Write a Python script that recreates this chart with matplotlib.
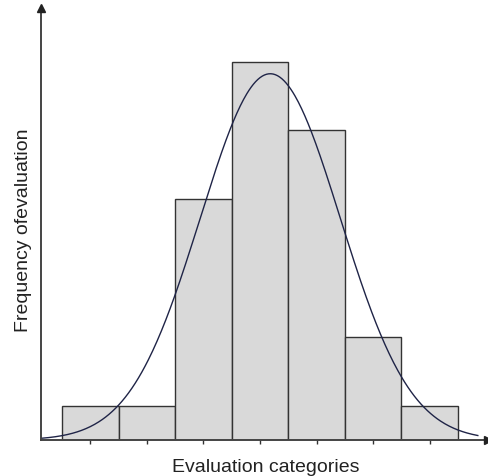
import numpy as np
import matplotlib.pyplot as plt

# frequency of each evaluation category
categories = [1, 2, 3, 4, 5, 6, 7]
frequencies = [1, 1, 7, 11, 9, 3, 1]

plt.rcParams['font.family'] = ['Liberation Sans', 'DejaVu Sans']

fig = plt.figure(figsize=(4.88, 4.77), dpi=100)
ax = fig.add_axes([41 / 488, 36 / 477, 447 / 488, 432 / 477])

ax.bar(categories, frequencies, width=1.0, color='#d9d9d9',
       edgecolor='#333333', linewidth=1.0, zorder=2)

# normal curve fitted to the histogram (sample std)
cats = np.array(categories, dtype=float)
freq = np.array(frequencies, dtype=float)
n = freq.sum()
mu = (cats * freq).sum() / n
sigma = np.sqrt(((cats - mu) ** 2 * freq).sum() / (n - 1))
xs = np.linspace(0.13, 7.85, 400)
ys = n / (sigma * np.sqrt(2 * np.pi)) * np.exp(-0.5 * ((xs - mu) / sigma) ** 2)
ax.plot(xs, ys, color='#1f2447', linewidth=1.0, zorder=3)

xmin, xmax = 0.13, 8.03
ymin, ymax = 0, 12.56
ax.set_xlim(xmin, xmax)
ax.set_ylim(ymin, ymax)

for s in ['top', 'right']:
    ax.spines[s].set_visible(False)
for s in ['left', 'bottom']:
    ax.spines[s].set_color('#444444')
    ax.spines[s].set_linewidth(1.4)
    ax.spines[s].set_zorder(4)

# arrow heads on the axes
ax.plot(xmax, 0, marker='>', color='#222222', markersize=6,
        clip_on=False, zorder=5)
ax.plot(xmin, ymax, marker='^', color='#222222', markersize=6,
        clip_on=False, zorder=5)

ax.set_xticks(categories)
ax.set_xticklabels([])
ax.set_yticks([])
ax.tick_params(axis='x', direction='inout', length=6, width=1.0,
               color='#333333')

fig.text(266 / 488, 1 - 468 / 477, 'Evaluation categories',
         ha='center', va='center', fontsize=14, color='#222222')
fig.text(24 / 488, 1 - 230 / 477, 'Frequency ofevaluation',
         ha='center', va='center', rotation=90, fontsize=14,
         color='#222222')

fig.savefig('out.png', dpi=100)
